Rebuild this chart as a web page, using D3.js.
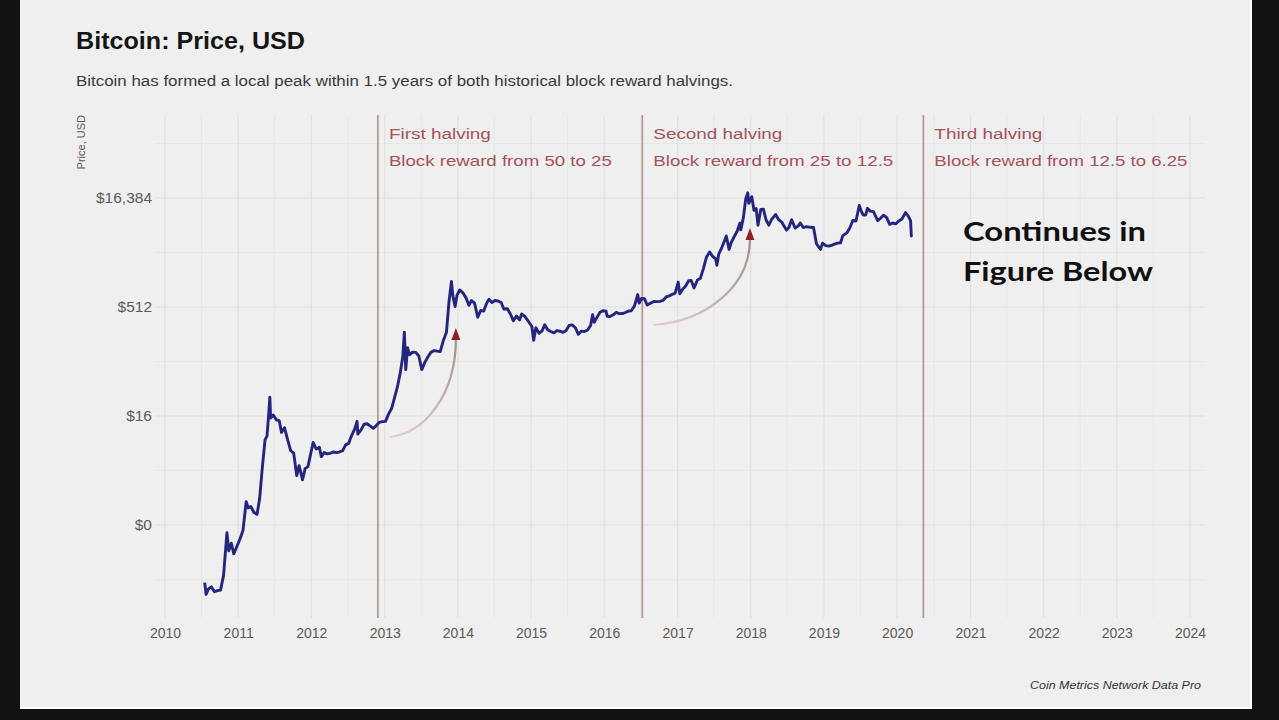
<!DOCTYPE html>
<html><head><meta charset="utf-8">
<script src="https://cdn.jsdelivr.net/npm/d3@7"></script>
<style>html,body{margin:0;padding:0;background:#121212;overflow:hidden}svg{display:block}</style>
</head><body>
<svg id="chart" width="1279" height="720"></svg>
<script>
// ---------- DATA ----------
const dates = [
"2010-07-18","2010-07-25","2010-08-05","2010-08-20","2010-09-05","2010-09-20","2010-10-05","2010-10-20","2010-11-06","2010-11-15","2010-11-28","2010-12-10","2010-12-25",
"2011-01-10","2011-01-25","2011-02-10","2011-02-20","2011-03-05","2011-03-20","2011-04-05","2011-04-18","2011-05-01","2011-05-15","2011-05-25","2011-06-03","2011-06-08","2011-06-12","2011-06-25","2011-07-10","2011-07-25","2011-08-05","2011-08-20","2011-09-05","2011-09-20","2011-10-05","2011-10-20","2011-11-01","2011-11-18","2011-12-01","2011-12-15",
"2012-01-01","2012-01-10","2012-01-25","2012-02-10","2012-02-20","2012-03-05","2012-03-20","2012-04-05","2012-04-20","2012-05-05","2012-05-20","2012-06-05","2012-06-20","2012-07-05","2012-07-20","2012-08-05","2012-08-16","2012-08-20","2012-09-05","2012-09-20","2012-10-05","2012-10-20","2012-11-05","2012-11-20","2012-12-05","2012-12-20",
"2013-01-05","2013-01-20","2013-02-05","2013-02-20","2013-03-05","2013-03-20","2013-04-01","2013-04-09","2013-04-16","2013-04-25","2013-05-05","2013-05-20","2013-06-05","2013-06-20","2013-07-05","2013-07-20","2013-08-05","2013-08-20","2013-09-05","2013-09-20","2013-10-05","2013-10-20","2013-11-05","2013-11-18","2013-11-30","2013-12-07","2013-12-18","2013-12-28",
"2014-01-10","2014-01-25","2014-02-10","2014-02-25","2014-03-10","2014-03-25","2014-04-10","2014-04-25","2014-05-10","2014-05-25","2014-06-05","2014-06-20","2014-07-05","2014-07-20","2014-08-05","2014-08-18","2014-09-05","2014-09-20","2014-10-05","2014-10-20","2014-11-05","2014-11-15","2014-12-01","2014-12-20",
"2015-01-05","2015-01-14","2015-01-25","2015-02-10","2015-02-25","2015-03-10","2015-03-25","2015-04-10","2015-04-25","2015-05-10","2015-05-25","2015-06-10","2015-06-25","2015-07-10","2015-07-25","2015-08-10","2015-08-25","2015-09-10","2015-09-25","2015-10-10","2015-10-25","2015-11-04","2015-11-12","2015-11-25","2015-12-10","2015-12-25",
"2016-01-10","2016-01-16","2016-01-30","2016-02-15","2016-03-01","2016-03-15","2016-04-01","2016-04-15","2016-05-01","2016-05-15","2016-05-31","2016-06-16","2016-06-23","2016-07-05","2016-07-20","2016-08-02","2016-08-20","2016-09-05","2016-09-20","2016-10-05","2016-10-20","2016-11-05","2016-11-20","2016-12-05","2016-12-20",
"2017-01-04","2017-01-12","2017-01-25","2017-02-10","2017-02-25","2017-03-10","2017-03-24","2017-04-10","2017-04-25","2017-05-10","2017-05-25","2017-06-10","2017-06-25","2017-07-10","2017-07-16","2017-07-25","2017-08-10","2017-08-25","2017-09-01","2017-09-15","2017-09-25","2017-10-10","2017-10-25","2017-11-08","2017-11-12","2017-11-25","2017-12-07","2017-12-17","2017-12-22",
"2018-01-06","2018-01-17","2018-01-28","2018-02-06","2018-02-20","2018-03-05","2018-03-18","2018-04-01","2018-04-15","2018-05-05","2018-05-20","2018-06-05","2018-06-28","2018-07-10","2018-07-24","2018-08-10","2018-08-25","2018-09-05","2018-09-20","2018-10-05","2018-10-25","2018-11-10","2018-11-25","2018-12-15","2018-12-25",
"2019-01-10","2019-01-25","2019-02-10","2019-02-25","2019-03-10","2019-03-25","2019-04-05","2019-04-25","2019-05-10","2019-05-25","2019-06-10","2019-06-26","2019-07-05","2019-07-16","2019-07-28","2019-08-06","2019-08-20","2019-09-05","2019-09-26","2019-10-10","2019-10-26","2019-11-10","2019-11-25","2019-12-10","2019-12-25",
"2020-01-10","2020-01-25","2020-02-12","2020-02-25","2020-03-08","2020-03-12","2020-03-16"
];
const prices = [
0.08,0.055,0.065,0.07,0.06,0.062,0.063,0.10,0.39,0.22,0.28,0.20,0.25,
0.32,0.42,1.05,0.86,0.90,0.75,0.70,1.15,3.0,7.5,8.5,18,29,15,16.5,14.2,13.8,9.5,11,7.5,5.3,4.9,2.4,3.3,2.1,3.0,3.2,
5.3,6.9,5.6,5.9,4.4,5.0,4.8,4.9,5.1,5.0,5.1,5.3,6.4,6.7,8.6,10.7,13.5,9.0,10.3,12.3,12.5,11.7,10.8,11.8,13.1,13.4,
13.5,17,20.5,29.5,40,64,105,230,70,140,112,122,121,108,70,88,105,122,128,126,124,175,230,620,1150,730,520,750,
880,810,690,540,630,580,370,460,450,580,655,590,630,620,590,480,485,410,330,385,340,410,380,320,
275,178,265,222,240,290,248,235,225,242,237,229,243,285,290,265,215,238,235,246,285,400,315,365,430,455,
448,380,378,400,432,415,416,430,450,455,530,760,580,670,665,545,580,610,608,612,630,705,730,765,795,
1130,780,890,1000,1180,1190,940,1210,1280,1750,2500,2950,2550,2370,1930,2740,3420,4350,4900,3200,3930,4780,5700,7400,5950,8700,16000,19300,13800,
17100,11100,11700,6900,11400,11500,8200,6900,8300,9700,8200,7600,5900,6400,8200,6300,6700,7400,6400,6600,6450,6400,3800,3200,3900,
3600,3550,3650,3800,3900,3950,4950,5400,6300,8000,7900,12900,11000,9500,9500,11800,10800,10600,8000,8600,9500,8800,7100,7400,7200,
7900,8400,10300,9300,8000,4900,5000
];
const halvingDates = ["2012-11-28","2016-07-09","2020-05-11"];
const halvingTitles = ["First halving","Second halving","Third halving"];
const halvingSubtitles = ["Block reward from 50 to 25","Block reward from 25 to 12.5","Block reward from 12.5 to 6.25"];
const xTickYears = [2010,2011,2012,2013,2014,2015,2016,2017,2018,2019,2020,2021,2022,2023,2024];
const yTickValues = [0.5,16,512,16384];
const yTickLabels = ["$0","$16","$512","$16,384"];
const yMinorValues = [0.088,2.83,90.5,2896,92682];
const arrowStartDates = ["2013-01-26","2016-09-01"];
const arrowStartPrices = [8.2,289];
const arrowEndDates = ["2013-12-22","2017-12-28"];
const arrowEndPrices = [263,6300];
const titleText = "Bitcoin: Price, USD";
const subtitleText = "Bitcoin has formed a local peak within 1.5 years of both historical block reward halvings.";
const yAxisTitle = "Price, USD";
const captionText = "Coin Metrics Network Data Pro";
const noteLines = ["Continues in","Figure Below"];

// ---------- CHART ----------
const parse = d3.timeParse("%Y-%m-%d");
const svg = d3.select("#chart");
const P = {left:155,right:1205,top:115,bottom:618};

const x = d3.scaleTime().domain([new Date(2010,0,1), new Date(2024,0,1)]).range([165,1190]);
const y = d3.scaleLog().base(2).domain([0.5,16384]).range([525,198]);

// frame
svg.append("rect").attr("x",0).attr("y",0).attr("width",1279).attr("height",720).attr("fill","#121212");
svg.append("rect").attr("x",20).attr("y",0).attr("width",1232).attr("height",709).attr("fill","#ffffff");
svg.append("rect").attr("x",20).attr("y",0).attr("width",1230).attr("height",707).attr("fill","#efefef");

// grid
const g = svg.append("g");
const halfYears = [];
xTickYears.forEach(yr => halfYears.push(new Date(yr,6,2)));
g.selectAll(".vmin").data(halfYears.filter(d => x(d) < P.right)).enter().append("line")
  .attr("x1",d=>x(d)).attr("x2",d=>x(d)).attr("y1",P.top).attr("y2",P.bottom)
  .attr("stroke","#e5e5e5").attr("stroke-width",0.9);
g.selectAll(".hmin").data(yMinorValues).enter().append("line")
  .attr("x1",P.left).attr("x2",P.right).attr("y1",d=>y(d)).attr("y2",d=>y(d))
  .attr("stroke","#e5e5e5").attr("stroke-width",0.9);
g.selectAll(".vmaj").data(xTickYears).enter().append("line")
  .attr("x1",d=>x(new Date(d,0,1))).attr("x2",d=>x(new Date(d,0,1))).attr("y1",P.top).attr("y2",P.bottom)
  .attr("stroke","#e0e0e0").attr("stroke-width",1.2);
g.selectAll(".hmaj").data(yTickValues).enter().append("line")
  .attr("x1",P.left).attr("x2",P.right).attr("y1",d=>y(d)).attr("y2",d=>y(d))
  .attr("stroke","#e0e0e0").attr("stroke-width",1.2);

// axes
const xAxis = d3.axisBottom(x).tickValues(xTickYears.map(yr=>new Date(yr,0,1)))
  .tickFormat(d3.timeFormat("%Y")).tickSize(0).tickPadding(10);
const xg = svg.append("g").attr("transform",`translate(0,${P.bottom})`).call(xAxis);
xg.select(".domain").remove();
xg.selectAll("text").attr("fill","#5a5a5a").style("font-family","Liberation Sans, Arial, sans-serif").style("font-size","14px");

const yAxis = d3.axisLeft(y).tickValues(yTickValues).tickFormat((d,i)=>yTickLabels[i]).tickSize(0).tickPadding(3);
const yg = svg.append("g").attr("transform",`translate(${P.left},0)`).call(yAxis);
yg.select(".domain").remove();
yg.selectAll("text").attr("fill","#5a5a5a").style("font-family","Liberation Sans, Arial, sans-serif").style("font-size","15.5px");

// y axis title
svg.append("text").attr("transform","translate(85,115) rotate(-90)").attr("text-anchor","end")
  .attr("fill","#5a5a5a").style("font-family","Liberation Sans, Arial, sans-serif").style("font-size","11px")
  .text(yAxisTitle);

// halving lines
svg.selectAll(".hv").data(halvingDates).enter().append("line")
  .attr("x1",d=>x(parse(d))).attr("x2",d=>x(parse(d))).attr("y1",P.top).attr("y2",P.bottom)
  .attr("stroke","#b0988f").attr("stroke-width",1.7);
const hvLenA = [102,129,108], hvLenB = [223,240,253];
halvingDates.forEach((d,i)=>{
  const hx = x(parse(d)) + 11;
  svg.append("text").attr("x",hx).attr("y",139).attr("fill","#a5525a")
    .style("font-family","Liberation Sans, Arial, sans-serif").style("font-size","15.5px")
    .attr("textLength",hvLenA[i]).attr("lengthAdjust","spacingAndGlyphs").text(halvingTitles[i]);
  svg.append("text").attr("x",hx).attr("y",166).attr("fill","#a5525a")
    .style("font-family","Liberation Sans, Arial, sans-serif").style("font-size","15.5px")
    .attr("textLength",hvLenB[i]).attr("lengthAdjust","spacingAndGlyphs").text(halvingSubtitles[i]);
});

// arrows
const defs = svg.append("defs");
arrowStartDates.forEach((d,i)=>{
  const x0 = x(parse(d)), y0 = y(arrowStartPrices[i]);
  const x1 = x(parse(arrowEndDates[i])), y1 = y(arrowEndPrices[i]);
  const gid = "ag"+i;
  const lg = defs.append("linearGradient").attr("id",gid).attr("gradientUnits","userSpaceOnUse")
    .attr("x1",x0).attr("y1",y0).attr("x2",x1).attr("y2",y1);
  lg.append("stop").attr("offset","0%").attr("stop-color","#e4cfcf");
  lg.append("stop").attr("offset","100%").attr("stop-color","#9c8a84");
  const yb = y1 + 11;
  const path = d3.path();
  path.moveTo(x0,y0);
  path.bezierCurveTo(x0+0.55*(x1-x0), y0-0.04*(y0-yb), x1, y0-0.45*(y0-yb), x1, yb);
  svg.append("path").attr("d",path.toString()).attr("fill","none")
    .attr("stroke",`url(#${gid})`).attr("stroke-width",2.2);
  svg.append("path").attr("d",`M${x1},${y1} L${x1-4.5},${y1+12} L${x1+4.5},${y1+12} Z`).attr("fill","#8e2222");
});

// price line
const series = dates.map((d,i)=>({date:parse(d), price:prices[i]}));
const line = d3.line().x(d=>x(d.date)).y(d=>y(d.price)).curve(d3.curveLinear);
svg.append("path").datum(series).attr("d",line).attr("fill","none")
  .attr("stroke","#25257f").attr("stroke-width",2.9).attr("stroke-linejoin","round");

// titles
svg.append("text").attr("x",76).attr("y",49).attr("fill","#151515")
  .style("font-family","Liberation Sans, Arial, sans-serif").style("font-weight","bold").style("font-size","24px")
  .attr("textLength",229).attr("lengthAdjust","spacingAndGlyphs").text(titleText);
svg.append("text").attr("x",76).attr("y",86).attr("fill","#3a3a3a")
  .style("font-family","Liberation Sans, Arial, sans-serif").style("font-size","14px")
  .attr("textLength",657).attr("lengthAdjust","spacingAndGlyphs").text(subtitleText);

// caption
svg.append("text").attr("x",1201).attr("y",689).attr("text-anchor","end").attr("fill","#333")
  .style("font-family","Liberation Sans, Arial, sans-serif").style("font-style","italic").style("font-size","11px")
  .attr("textLength",171).attr("lengthAdjust","spacingAndGlyphs").text(captionText);

// note
const noteLens = [183,190];
noteLines.forEach((t,i)=>{
  svg.append("text").attr("x",963).attr("y",241+i*40).attr("fill","#111")
    .style("font-family","Lato, 'Open Sans', sans-serif").style("font-weight","bold").style("font-size","27px")
    .attr("textLength",noteLens[i]).attr("lengthAdjust","spacingAndGlyphs").text(t);
});
</script>
</body></html>
